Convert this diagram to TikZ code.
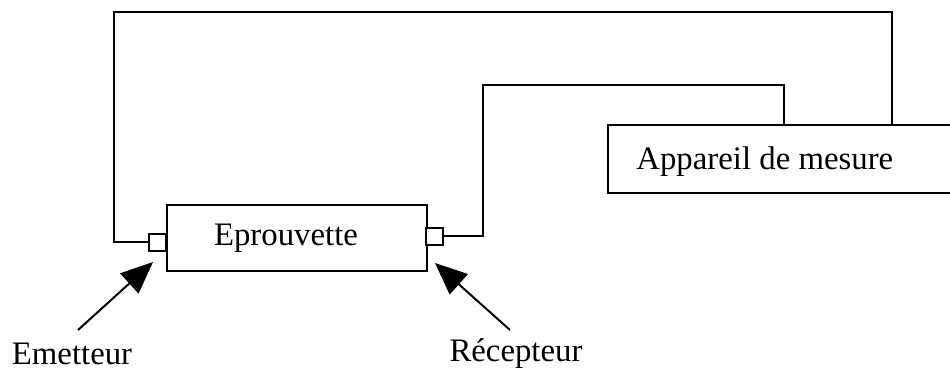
\documentclass[tikz,border=0pt]{standalone}
\usepackage{fontspec}
\setmainfont{Liberation Serif}
\usetikzlibrary{arrows.meta}
\begin{document}
\begin{tikzpicture}[x=0.5pt,y=-0.5pt,
  box/.style={draw,line width=1.1pt,inner sep=0pt,anchor=north west},
  sq/.style={draw,line width=1pt,inner sep=0pt,minimum width=8.5pt,minimum height=8.5pt,fill=white},
  wire/.style={line width=1pt},
  lbl/.style={inner sep=0pt,font=\fontsize{16.4}{20}\selectfont},
  pointer/.style={line width=1pt,-{Triangle[length=16pt,width=13.5pt]}}]
\useasboundingbox (0,0) rectangle (950,372);
\clip (0,0) rectangle (950,372);
% boxes
\node[box,minimum width=130pt,minimum height=33pt] (ep) at (166,204) {};
\node[lbl] (eptext) at (286,238) {Eprouvette};
\node[box,minimum width=180pt,minimum height=34pt] (app) at (607,124) {};
\node[lbl,anchor=west] (apptext) at (636,162) {Appareil de mesure};
% transducers
\node[sq] (sqL) at (157.5,242) {};
\node[sq] (sqR) at (434.5,236) {};
% wires
\coordinate (cL1) at (114,242);
\coordinate (cL2) at (114,12);
\coordinate (cL3) at (892,12);
\coordinate (cR1) at (483,236);
\coordinate (cR2) at (483,85);
\coordinate (cR3) at (784,85);
\draw[wire] (sqL.west) -- (cL1) -- (cL2) -- (cL3) -- (cL3 |- app.north);
\draw[wire] (sqR.east) -- (cR1) -- (cR2) -- (cR3) -- (cR3 |- app.north);
% labels and pointers
\node[lbl] (em) at (72,354) {Emetteur};
\node[lbl] (rec) at (516,354) {Récepteur};
\coordinate (emt) at (78,330);
\coordinate (rect) at (510,330);
\coordinate (emh) at (153,262);
\coordinate (rech) at (435,263);
\draw[pointer] (emt) -- (emh);
\draw[pointer] (rect) -- (rech);
\end{tikzpicture}
\end{document}
